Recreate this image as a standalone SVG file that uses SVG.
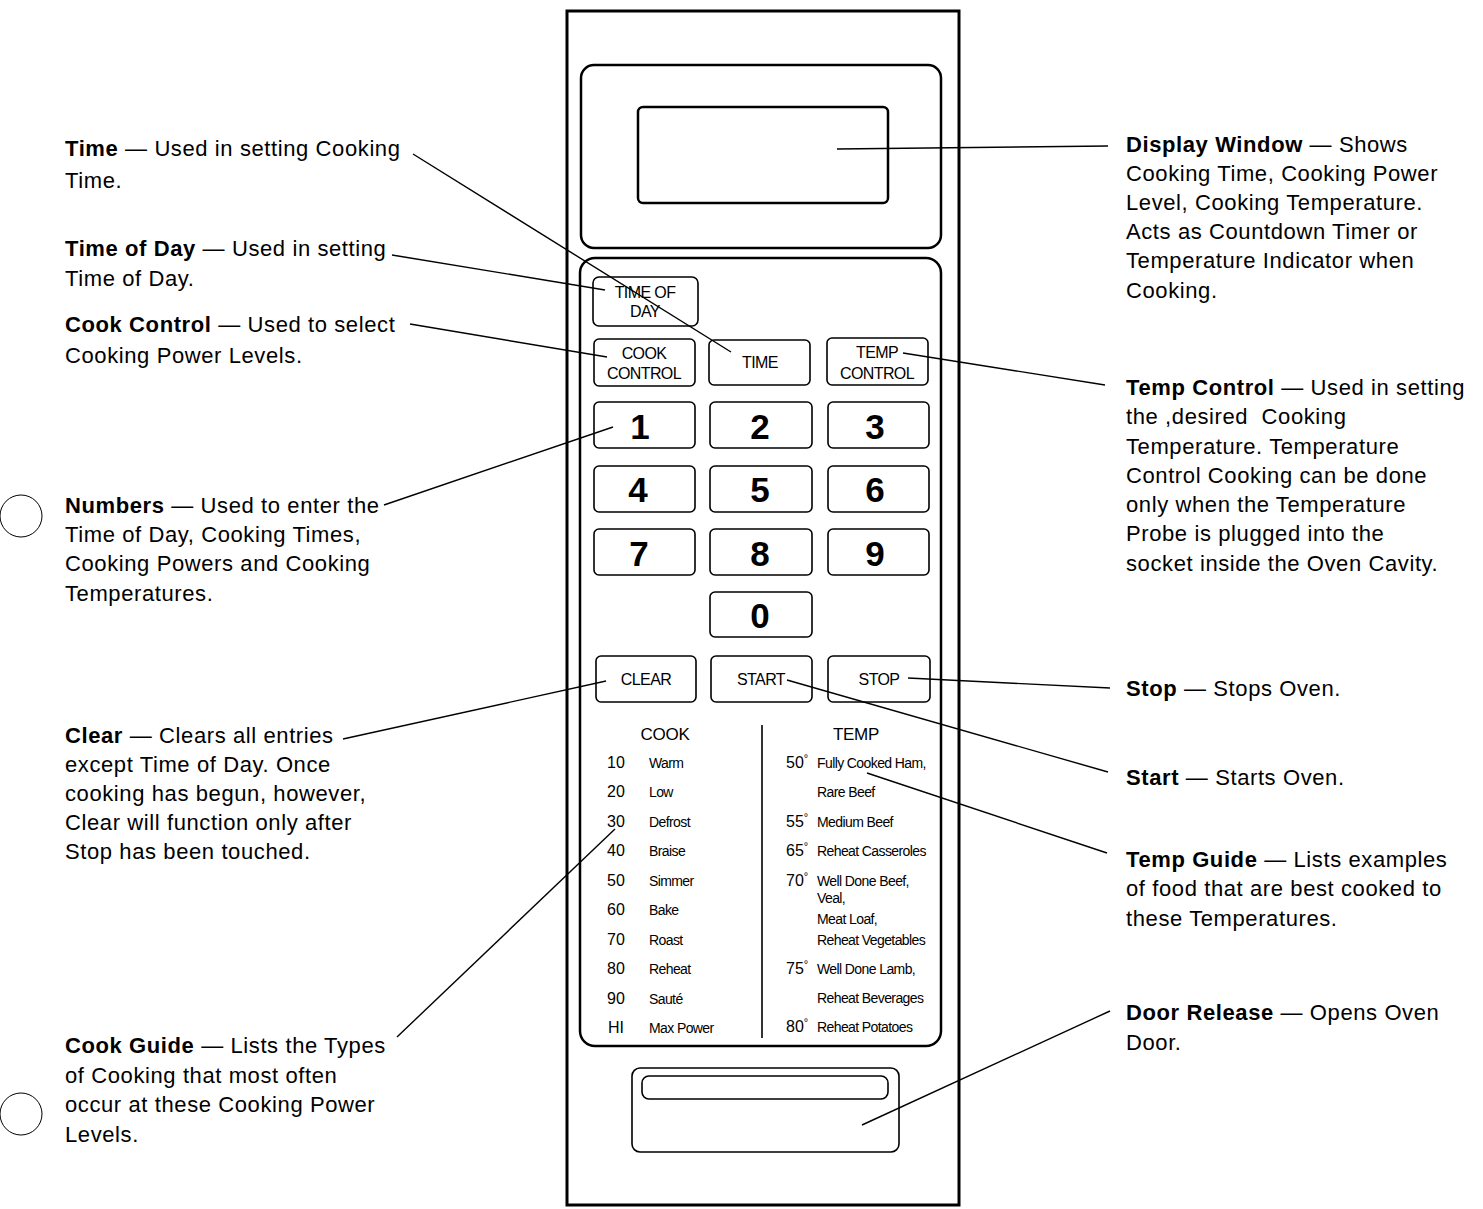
<svg xmlns="http://www.w3.org/2000/svg" width="1483" height="1209" viewBox="0 0 1483 1209">
<style>
.pnl{fill:none;stroke:#000;stroke-width:3}
.frm{fill:none;stroke:#000;stroke-width:2.5}
.btn{fill:none;stroke:#000;stroke-width:1.6}
.ld{fill:none;stroke:#000;stroke-width:1.4}
.desc{font-family:"Liberation Sans",Arial,sans-serif;font-size:22px;letter-spacing:0.6px;fill:#000}
.desc .b{font-weight:bold}
.bt{font-family:"Liberation Sans",Arial,sans-serif;font-size:16px;letter-spacing:-0.6px;fill:#000;text-anchor:middle}
.num{font-family:"Liberation Sans",Arial,sans-serif;font-size:35px;font-weight:bold;fill:#000;text-anchor:middle}
.hd{font-family:"Liberation Sans",Arial,sans-serif;font-size:17px;letter-spacing:-0.3px;fill:#000;text-anchor:middle}
.cn{font-family:"Liberation Sans",Arial,sans-serif;font-size:16px;fill:#000}
.cn .dg{font-size:11px}
.gl{font-family:"Liberation Sans",Arial,sans-serif;font-size:14px;letter-spacing:-0.6px;fill:#000}
.hole{fill:none;stroke:#000;stroke-width:1}
</style>

<g id="panel">
  <rect class="pnl" x="567" y="11" width="392" height="1194"/>
</g>

<g id="display-window">
  <rect class="frm" x="581" y="65" width="360" height="183" rx="13"/>
  <rect class="frm" x="638" y="107" width="250" height="96" rx="5" stroke-width="2"/>
</g>

<g id="keypad">
  <rect class="frm" x="580" y="258" width="361" height="788" rx="15"/>
</g>

<g id="btn-time-of-day">
  <rect class="btn" x="593" y="277" width="105" height="49" rx="6"/>
  <text class="bt" x="645" y="298">TIME OF</text>
  <text class="bt" x="645" y="317">DAY</text>
</g>
<g id="btn-cook-control">
  <rect class="btn" x="594" y="339" width="101" height="47" rx="5"/>
  <text class="bt" x="644" y="359">COOK</text>
  <text class="bt" x="644" y="379">CONTROL</text>
</g>
<g id="btn-time">
  <rect class="btn" x="709" y="340" width="101" height="45" rx="5"/>
  <text class="bt" x="760" y="368">TIME</text>
</g>
<g id="btn-temp-control">
  <rect class="btn" x="827" y="338" width="101" height="47" rx="5"/>
  <text class="bt" x="877" y="358">TEMP</text>
  <text class="bt" x="877" y="379">CONTROL</text>
</g>

<g id="btn-1"><rect class="btn" x="594" y="402" width="101" height="46" rx="5"/><text class="num" x="640" y="439">1</text></g>
<g id="btn-2"><rect class="btn" x="710" y="402" width="102" height="46" rx="5"/><text class="num" x="760" y="439">2</text></g>
<g id="btn-3"><rect class="btn" x="828" y="402" width="101" height="46" rx="5"/><text class="num" x="875" y="439">3</text></g>
<g id="btn-4"><rect class="btn" x="594" y="466" width="101" height="46" rx="5"/><text class="num" x="638" y="502">4</text></g>
<g id="btn-5"><rect class="btn" x="710" y="466" width="102" height="46" rx="5"/><text class="num" x="760" y="502">5</text></g>
<g id="btn-6"><rect class="btn" x="828" y="466" width="101" height="46" rx="5"/><text class="num" x="875" y="502">6</text></g>
<g id="btn-7"><rect class="btn" x="594" y="529" width="101" height="46" rx="5"/><text class="num" x="639" y="566">7</text></g>
<g id="btn-8"><rect class="btn" x="710" y="529" width="102" height="46" rx="5"/><text class="num" x="760" y="566">8</text></g>
<g id="btn-9"><rect class="btn" x="828" y="529" width="101" height="46" rx="5"/><text class="num" x="875" y="566">9</text></g>
<g id="btn-0"><rect class="btn" x="710" y="592" width="102" height="45" rx="5"/><text class="num" x="760" y="628">0</text></g>

<g id="btn-clear">
  <rect class="btn" x="596" y="656" width="100" height="46" rx="5"/>
  <text class="bt" x="646" y="685" font-size="17">CLEAR</text>
</g>
<g id="btn-start">
  <rect class="btn" x="711" y="656" width="101" height="46" rx="5"/>
  <text class="bt" x="761" y="685" font-size="17">START</text>
</g>
<g id="btn-stop">
  <rect class="btn" x="828" y="656" width="102" height="46" rx="5"/>
  <text class="bt" x="879" y="685" font-size="17">STOP</text>
</g>

<g id="cook-guide">
  <text class="hd" x="665" y="740">COOK</text>
  <text class="cn" x="607" y="768">10</text><text class="gl" x="649" y="768">Warm</text>
  <text class="cn" x="607" y="797">20</text><text class="gl" x="649" y="797">Low</text>
  <text class="cn" x="607" y="827">30</text><text class="gl" x="649" y="827">Defrost</text>
  <text class="cn" x="607" y="856">40</text><text class="gl" x="649" y="856">Braise</text>
  <text class="cn" x="607" y="886">50</text><text class="gl" x="649" y="886">Simmer</text>
  <text class="cn" x="607" y="915">60</text><text class="gl" x="649" y="915">Bake</text>
  <text class="cn" x="607" y="945">70</text><text class="gl" x="649" y="945">Roast</text>
  <text class="cn" x="607" y="974">80</text><text class="gl" x="649" y="974">Reheat</text>
  <text class="cn" x="607" y="1004">90</text><text class="gl" x="649" y="1004">Sauté</text>
  <text class="cn" x="608" y="1033">HI</text><text class="gl" x="649" y="1033">Max Power</text>
</g>

<g id="guide-divider">
  <line x1="762" y1="725" x2="762" y2="1038" stroke="#000" stroke-width="1.6"/>
</g>

<g id="temp-guide">
  <text class="hd" x="856" y="740">TEMP</text>
  <text class="cn" x="786" y="768">50<tspan class="dg" dy="-6">°</tspan></text><text class="gl" x="817" y="768">Fully Cooked Ham,</text>
  <text class="gl" x="817" y="797">Rare Beef</text>
  <text class="cn" x="786" y="827">55<tspan class="dg" dy="-6">°</tspan></text><text class="gl" x="817" y="827">Medium Beef</text>
  <text class="cn" x="786" y="856">65<tspan class="dg" dy="-6">°</tspan></text><text class="gl" x="817" y="856">Reheat Casseroles</text>
  <text class="cn" x="786" y="886">70<tspan class="dg" dy="-6">°</tspan></text><text class="gl" x="817" y="886">Well Done Beef,</text>
  <text class="gl" x="817" y="903">Veal,</text>
  <text class="gl" x="817" y="924">Meat Loaf,</text>
  <text class="gl" x="817" y="945">Reheat Vegetables</text>
  <text class="cn" x="786" y="974">75<tspan class="dg" dy="-6">°</tspan></text><text class="gl" x="817" y="974">Well Done Lamb,</text>
  <text class="gl" x="817" y="1003">Reheat Beverages</text>
  <text class="cn" x="786" y="1032">80<tspan class="dg" dy="-6">°</tspan></text><text class="gl" x="817" y="1032">Reheat Potatoes</text>
</g>

<g id="door-release">
  <rect class="btn" x="632" y="1068" width="267" height="84" rx="8" stroke-width="1.8"/>
  <rect class="btn" x="642" y="1076" width="246" height="23" rx="7" stroke-width="1.8"/>
</g>

<g id="holes">
  <circle class="hole" cx="21" cy="516" r="21"/>
  <circle class="hole" cx="21" cy="1114" r="21"/>
</g>

<g id="connectors">
  <line class="ld" x1="837" y1="149" x2="1108" y2="146"/>
  <line class="ld" x1="413" y1="154" x2="731" y2="352"/>
  <line class="ld" x1="392" y1="255" x2="605" y2="290"/>
  <line class="ld" x1="410" y1="324" x2="607" y2="357"/>
  <line class="ld" x1="384" y1="505" x2="613" y2="427"/>
  <line class="ld" x1="343" y1="739" x2="606" y2="681"/>
  <line class="ld" x1="397" y1="1037" x2="615" y2="829"/>
  <line class="ld" x1="903" y1="353" x2="1105" y2="385"/>
  <line class="ld" x1="908" y1="678" x2="1110" y2="688"/>
  <line class="ld" x1="787" y1="680" x2="1108" y2="772"/>
  <line class="ld" x1="867" y1="773" x2="1107" y2="853"/>
  <line class="ld" x1="862" y1="1125" x2="1110" y2="1011"/>
</g>

<g id="desc-time">
  <text class="desc" x="65" y="156"><tspan class="b">Time</tspan> — Used in setting Cooking</text>
  <text class="desc" x="65" y="188">Time.</text>
</g>
<g id="desc-time-of-day">
  <text class="desc" x="65" y="256"><tspan class="b">Time of Day</tspan> — Used in setting</text>
  <text class="desc" x="65" y="286">Time of Day.</text>
</g>
<g id="desc-cook-control">
  <text class="desc" x="65" y="332"><tspan class="b">Cook Control</tspan> — Used to select</text>
  <text class="desc" x="65" y="363">Cooking Power Levels.</text>
</g>
<g id="desc-numbers">
  <text class="desc" x="65" y="513"><tspan class="b">Numbers</tspan> — Used to enter the</text>
  <text class="desc" x="65" y="542">Time of Day, Cooking Times,</text>
  <text class="desc" x="65" y="571">Cooking Powers and Cooking</text>
  <text class="desc" x="65" y="601">Temperatures.</text>
</g>
<g id="desc-clear">
  <text class="desc" x="65" y="743"><tspan class="b">Clear</tspan> — Clears all entries</text>
  <text class="desc" x="65" y="772">except Time of Day. Once</text>
  <text class="desc" x="65" y="801">cooking has begun, however,</text>
  <text class="desc" x="65" y="830">Clear will function only after</text>
  <text class="desc" x="65" y="859">Stop has been touched.</text>
</g>
<g id="desc-cook-guide">
  <text class="desc" x="65" y="1053"><tspan class="b">Cook Guide</tspan> — Lists the Types</text>
  <text class="desc" x="65" y="1083">of Cooking that most often</text>
  <text class="desc" x="65" y="1112">occur at these Cooking Power</text>
  <text class="desc" x="65" y="1142">Levels.</text>
</g>
<g id="desc-display-window">
  <text class="desc" x="1126" y="152"><tspan class="b">Display Window</tspan> — Shows</text>
  <text class="desc" x="1126" y="181">Cooking Time, Cooking Power</text>
  <text class="desc" x="1126" y="210">Level, Cooking Temperature.</text>
  <text class="desc" x="1126" y="239">Acts as Countdown Timer or</text>
  <text class="desc" x="1126" y="268">Temperature Indicator when</text>
  <text class="desc" x="1126" y="298">Cooking.</text>
</g>
<g id="desc-temp-control">
  <text class="desc" x="1126" y="395"><tspan class="b">Temp Control</tspan> — Used in setting</text>
  <text class="desc" x="1126" y="424" style="white-space:pre">the ,desired  Cooking</text>
  <text class="desc" x="1126" y="454">Temperature. Temperature</text>
  <text class="desc" x="1126" y="483">Control Cooking can be done</text>
  <text class="desc" x="1126" y="512">only when the Temperature</text>
  <text class="desc" x="1126" y="541">Probe is plugged into the</text>
  <text class="desc" x="1126" y="571">socket inside the Oven Cavity.</text>
</g>
<g id="desc-stop">
  <text class="desc" x="1126" y="696"><tspan class="b">Stop</tspan> — Stops Oven.</text>
</g>
<g id="desc-start">
  <text class="desc" x="1126" y="785"><tspan class="b">Start</tspan> — Starts Oven.</text>
</g>
<g id="desc-temp-guide">
  <text class="desc" x="1126" y="867"><tspan class="b">Temp Guide</tspan> — Lists examples</text>
  <text class="desc" x="1126" y="896">of food that are best cooked to</text>
  <text class="desc" x="1126" y="926">these Temperatures.</text>
</g>
<g id="desc-door-release">
  <text class="desc" x="1126" y="1020"><tspan class="b">Door Release</tspan> — Opens Oven</text>
  <text class="desc" x="1126" y="1050">Door.</text>
</g>
</svg>
